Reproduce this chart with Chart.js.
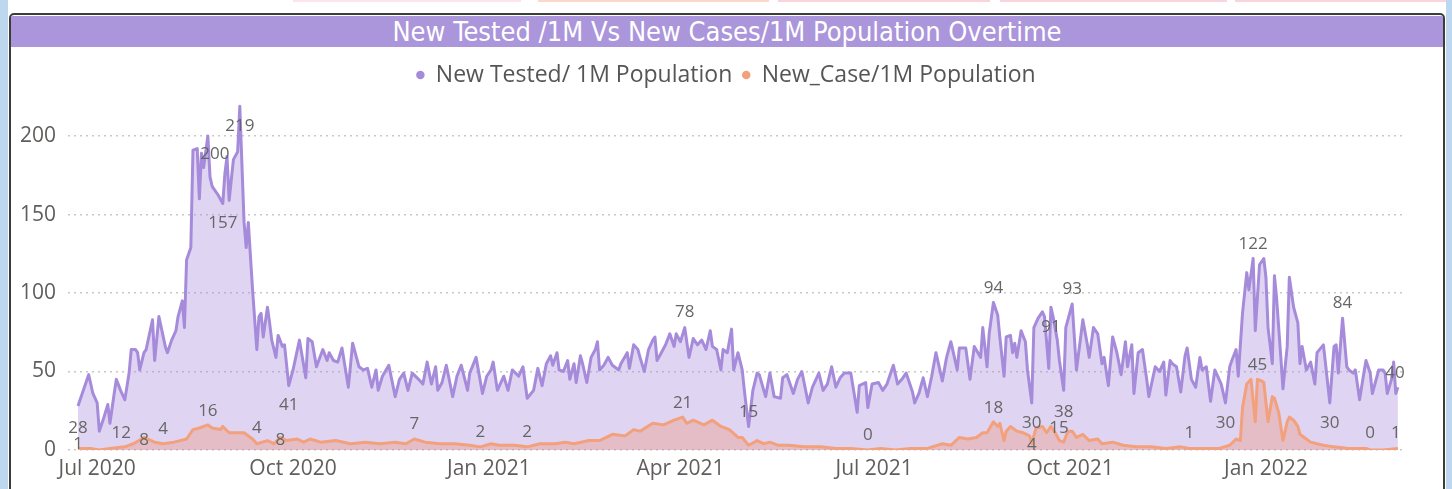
<!DOCTYPE html>
<html>
<head>
<meta charset="utf-8">
<script src="https://cdn.jsdelivr.net/npm/chart.js@4.4.1/dist/chart.umd.min.js"></script>
<style>
html,body{margin:0;padding:0;width:1452px;height:489px;overflow:hidden;background:#ffffff;}
#lstrip{position:absolute;left:0;top:0;width:8px;height:489px;background:#bdd7ee;}
#rstrip{position:absolute;left:1446px;top:0;width:6px;height:489px;background:#bdd7ee;}
.tab{position:absolute;top:0;height:2px;}
#panel{position:absolute;left:9px;top:13px;width:1436px;height:490px;border:2px solid #3c3c3c;border-radius:5px;background:#fff;box-sizing:border-box;}
#title{position:absolute;left:11px;top:16px;width:1432px;height:31px;background:#ab95db;color:#ffffff;
  font-family:"Liberation Sans Narrow","DejaVu Sans Condensed","Roboto Condensed",Roboto,sans-serif;font-stretch:condensed;
  font-size:27px;line-height:32px;text-align:center;white-space:nowrap;}
#chart{position:absolute;left:0;top:0;}
</style>
</head>
<body>
<div id="lstrip"></div>
<div id="rstrip"></div>
<div class="tab" style="left:293px;width:228px;background:#fce3ef;"></div>
<div class="tab" style="left:538px;width:231px;background:#fbd8c9;"></div>
<div class="tab" style="left:778px;width:212px;background:#f9d4da;"></div>
<div class="tab" style="left:1000px;width:227px;background:#f9d4da;"></div>
<div class="tab" style="left:1235px;width:211px;background:#f9d4da;"></div>
<div id="panel"></div>
<div id="title">New Tested /1M Vs New Cases/1M Population Overtime</div>
<canvas id="chart" width="1452" height="489"></canvas>
<script>
// ---- data ----
const startDate = '2020-06-22';
const seriesNames = ['New Tested/ 1M Population', 'New_Case/1M Population'];

const testedDays = [0,5,7,9,10,12,14,15,17,18,20,22,24,25,27,28,29,31,32,35,36,38,41,42,44,46,47,49,50,51,53,54,56,57,58,59,61,62,63,66,68,69,70,71,73,75,76,78,79,80,82,84,85,86,87,89,90,91,93,94,96,97,99,101,104,107,108,110,112,115,117,118,120,122,124,127,129,132,134,136,138,140,141,143,146,149,151,153,155,157,160,162,164,166,168,169,171,173,176,178,180,183,184,187,190,192,194,195,197,200,202,204,207,209,211,214,216,218,220,222,223,225,226,228,230,231,233,234,236,237,239,241,243,244,245,247,249,251,254,255,258,259,261,263,264,266,268,270,271,272,274,276,278,280,281,283,285,287,289,291,293,295,297,298,300,302,303,305,307,308,310,312,313,315,317,319,320,323,325,327,330,331,333,336,338,340,343,345,348,350,352,354,356,358,360,363,366,367,370,371,373,376,378,380,383,385,387,389,392,393,395,397,399,401,403,406,408,410,413,414,417,419,421,424,425,427,428,430,432,433,435,436,438,439,440,441,443,445,446,448,449,451,453,454,456,457,458,460,461,463,464,466,467,469,471,472,474,475,477,479,481,482,484,486,488,490,492,493,495,496,498,500,502,503,506,508,510,511,513,514,516,518,520,521,523,525,527,528,530,532,534,536,537,539,541,542,544,545,547,549,550,552,553,555,557,558,559,561,562,563,565,566,568,569,571,573,574,575,577,579,581,582,585,586,588,590,591,592,594,596,597,599,600,602,604,605,607,608,611,613,614,615,617,618,619,620];
const testedValues = [28,48,36,30,12,20,29,17,36,45,38,32,49,64,64,62,51,62,64,83,57,85,66,62,70,76,85,95,78,121,129,191,192,160,189,180,200,174,168,162,157,176,187,159,185,190,219,145,129,145,102,64,85,87,72,91,81,70,59,73,66,67,41,51,70,46,71,69,53,64,57,62,57,56,65,40,68,53,51,52,40,51,38,47,54,34,45,49,38,49,45,42,56,42,53,38,43,54,34,47,54,38,49,59,36,47,51,56,38,47,38,51,47,53,33,38,52,41,55,60,54,62,51,50,57,45,55,43,60,55,43,59,64,69,51,54,59,54,51,55,62,52,67,64,59,50,64,70,72,57,62,67,74,66,74,69,78,59,71,67,70,64,76,66,64,51,64,62,77,51,62,51,38,15,38,49,48,34,49,34,33,46,48,36,45,50,30,40,49,38,42,53,40,46,49,49,24,41,43,27,42,43,38,42,54,42,45,49,37,30,36,46,34,47,62,44,59,69,51,65,65,45,66,59,78,53,74,94,86,72,47,72,73,62,68,59,76,69,51,30,78,84,88,85,52,91,85,70,57,38,78,88,93,51,72,83,68,59,78,74,55,59,41,72,62,48,69,53,67,36,62,64,45,34,53,50,56,35,57,55,53,37,60,65,45,40,59,51,53,31,51,45,42,30,53,57,64,47,87,113,102,122,76,118,122,110,78,55,111,97,59,39,66,110,91,81,55,66,51,56,42,62,67,55,30,66,67,49,84,53,51,49,51,32,49,57,49,36,51,51,49,36,45,56,36,40];

const caseDays = [0,6,10,15,22,26,31,36,40,45,48,51,54,57,61,63,67,68,71,78,82,84,89,92,95,98,103,106,109,114,121,128,135,142,149,154,158,163,170,177,184,189,194,198,205,211,217,224,229,233,240,245,251,257,261,264,270,275,280,284,286,289,294,298,302,306,310,312,315,319,322,325,329,334,341,349,356,363,371,377,384,391,399,406,410,414,418,422,425,427,430,432,433,435,436,438,441,444,447,448,450,453,455,457,459,461,463,465,467,469,472,475,479,481,486,491,497,504,511,518,522,529,536,541,544,546,547,549,551,553,554,556,557,559,561,562,564,566,568,569,571,573,574,576,579,582,585,590,597,605,607,613,620];
const caseValues = [1,1,0,1,2,4,8,5,4,5,6,7,13,14,16,14,13,15,11,11,7,4,6,4,8,6,7,5,7,5,6,4,5,4,5,4,7,5,4,4,3,2,4,3,3,2,4,4,5,4,6,6,10,9,13,12,17,16,19,21,17,19,16,19,15,13,8,8,3,6,4,5,3,3,2,2,1,1,0,1,0,1,1,4,3,8,7,8,11,11,18,15,17,6,12,15,12,11,9,4,14,15,11,15,11,6,5,12,12,8,10,6,7,4,5,3,2,2,1,2,1,1,1,3,7,6,27,42,45,18,45,44,43,18,34,33,24,6,18,21,19,15,10,8,5,4,3,2,1,1,0,0,1];

const tickDates = ['2020-07-01','2020-10-01','2021-01-01','2021-04-01','2021-07-01','2021-10-01','2022-01-01'];
const tickLabels = ['Jul 2020','Oct 2020','Jan 2021','Apr 2021','Jul 2021','Oct 2021','Jan 2022'];
const yTickValues = [0, 50, 100, 150, 200];

// ---- label placement (style only: series, day, pixel offset) ----
const labelPlacement = [
  {s:0,d:0,dx:0,dy:22},{s:0,d:10,dx:22,dy:2},{s:0,d:61,dx:7,dy:18},{s:0,d:68,dx:0,dy:20},
  {s:0,d:76,dx:0,dy:20},{s:0,d:99,dx:0,dy:20},{s:0,d:285,dx:0,dy:-15},{s:0,d:315,dx:0,dy:-14},
  {s:0,d:430,dx:0,dy:-14},{s:0,d:457,dx:0,dy:20},{s:0,d:467,dx:0,dy:-15},{s:0,d:448,dx:0,dy:20},
  {s:0,d:463,dx:0,dy:22},{s:0,d:552,dx:0,dy:-14},{s:0,d:539,dx:0,dy:20},{s:0,d:594,dx:0,dy:-15},
  {s:0,d:588,dx:0,dy:20},{s:0,d:620,dx:-3,dy:-14},
  {s:1,d:0,dx:0,dy:-4},{s:1,d:31,dx:0,dy:3},{s:1,d:40,dx:0,dy:-15},{s:1,d:61,dx:0,dy:-14},
  {s:1,d:84,dx:0,dy:-16},{s:1,d:95,dx:0,dy:3},{s:1,d:158,dx:0,dy:-15},{s:1,d:189,dx:0,dy:-15},
  {s:1,d:211,dx:0,dy:-15},{s:1,d:284,dx:0,dy:-14},{s:1,d:371,dx:0,dy:-15},{s:1,d:430,dx:0,dy:-14},
  {s:1,d:448,dx:0,dy:1},{s:1,d:457,dx:8,dy:2},{s:1,d:522,dx:0,dy:-15},{s:1,d:554,dx:0,dy:-14},
  {s:1,d:607,dx:0,dy:-17},{s:1,d:620,dx:-2,dy:-15}
];

const DAY = 86400000;
const tickDays = tickDates.map(t => Math.round((Date.parse(t) - Date.parse(startDate)) / DAY));
const toPoints = (days, vals) => days.map((d, i) => ({x: d, y: vals[i]}));

const FONT = '"Open Sans", "Segoe UI", sans-serif';
const TXT = '#605e5c';

const labelPlugin = {
  id: 'pointLabels',
  afterDatasetsDraw(chart) {
    const ctx = chart.ctx;
    ctx.save();
    ctx.font = '17px ' + FONT;
    ctx.fillStyle = '#666666';
    ctx.textAlign = 'center';
    ctx.textBaseline = 'middle';
    labelPlacement.forEach(L => {
      const days = L.s === 0 ? testedDays : caseDays;
      const vals = L.s === 0 ? testedValues : caseValues;
      const i = days.indexOf(L.d);
      if (i < 0) return;
      const p = chart.getDatasetMeta(L.s).data[i];
      ctx.fillText(String(vals[i]), p.x + L.dx, p.y + L.dy);
    });
    ctx.restore();
  }
};

new Chart(document.getElementById('chart'), {
  type: 'line',
  data: {
    datasets: [
      {
        label: seriesNames[0],
        data: toPoints(testedDays, testedValues),
        borderColor: '#a68bdb',
        backgroundColor: 'rgba(166,139,219,0.36)',
        borderWidth: 3,
        borderJoinStyle: 'round',
        fill: 'origin',
        pointRadius: 0,
        tension: 0,
        order: 1
      },
      {
        label: seriesNames[1],
        data: toPoints(caseDays, caseValues),
        borderColor: '#f3a17c',
        backgroundColor: 'rgba(240,140,105,0.32)',
        borderWidth: 3,
        borderJoinStyle: 'round',
        fill: 'origin',
        pointRadius: 0,
        tension: 0,
        order: 0
      }
    ]
  },
  options: {
    responsive: false,
    animation: false,
    devicePixelRatio: 1,
    layout: {padding: {top: 53.5, left: 0, right: 0, bottom: 0}},
    plugins: {
      tooltip: {enabled: false},
      legend: {
        display: true,
        position: 'top',
        labels: {
          usePointStyle: true,
          pointStyle: 'circle',
          boxWidth: 8,
          boxHeight: 6,
          padding: 10,
          color: '#555555',
          font: {family: FONT, size: 23},
          sort: (a, b) => a.datasetIndex - b.datasetIndex,
          generateLabels: (chart) => Chart.defaults.plugins.legend.labels.generateLabels(chart).map(it => {
            const ds = chart.data.datasets[it.datasetIndex];
            it.fillStyle = ds.borderColor;
            it.strokeStyle = ds.borderColor;
            it.lineWidth = 0;
            return it;
          })
        }
      }
    },
    scales: {
      x: {
        type: 'linear',
        min: -4.7,
        max: 623.8,
        grid: {display: false, drawTicks: false},
        border: {display: false},
        afterBuildTicks: (scale) => { scale.ticks = tickDays.map(v => ({value: v})); },
        afterFit: (scale) => { scale.height = 39; },
        ticks: {
          autoSkip: false,
          maxRotation: 0,
          padding: 6,
          color: TXT,
          font: {family: FONT, size: 21},
          callback: (v, i) => tickLabels[i]
        }
      },
      y: {
        position: 'left',
        min: 0,
        max: 225.2,
        grid: {color: '#c8c8c8', lineWidth: 1.5, drawTicks: false},
        border: {display: false, dash: [2, 4]},
        afterBuildTicks: (scale) => { scale.ticks = yTickValues.map(v => ({value: v})); },
        afterFit: (scale) => { scale.width = 68; },
        ticks: {
          padding: 12,
          color: TXT,
          font: {family: FONT, size: 21}
        }
      },
      yRightSpace: {
        position: 'right',
        display: true,
        grid: {display: false, drawTicks: false},
        border: {display: false},
        ticks: {display: false},
        afterFit: (scale) => { scale.width = 46; }
      }
    }
  },
  plugins: [labelPlugin]
});
</script>
</body>
</html>
